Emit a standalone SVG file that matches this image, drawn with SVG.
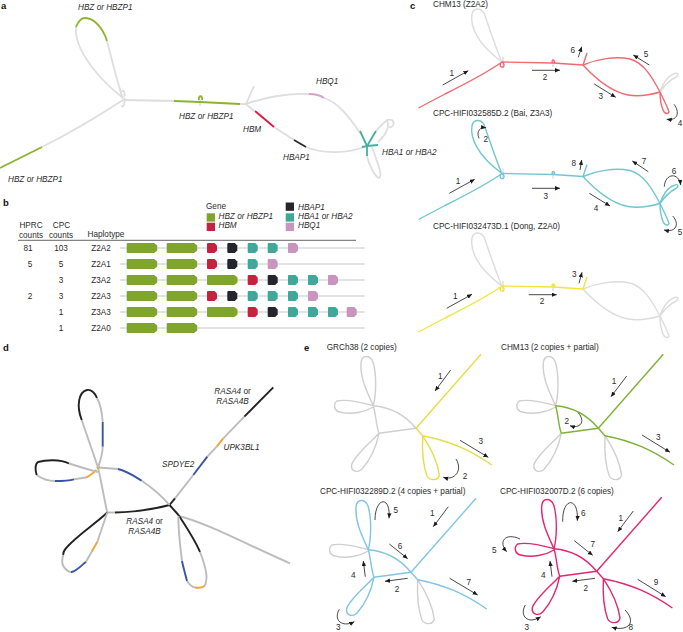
<svg xmlns="http://www.w3.org/2000/svg" xmlns:xlink="http://www.w3.org/1999/xlink" width="683" height="632" viewBox="0 0 683 632">
<style>
text{font-family:"Liberation Sans",Arial,sans-serif;font-size:8.2px;fill:#2a2a2a}
.i{font-style:italic}
.m{text-anchor:middle}
.p{font-weight:bold;font-size:9.5px;fill:#111}
.s{fill:none;stroke-linecap:butt;stroke-linejoin:round;stroke-width:1.4}
.a{fill:none;stroke-width:1.8;stroke-linecap:butt}
.d{fill:none;stroke-width:1.9}
.dg{stroke:#bcbcbc}.dk{stroke:#222}.db{stroke:#3a52a8}.do{stroke:#f0a52e}
.ar{fill:none;stroke:#1a1a1a;stroke-width:.8;marker-end:url(#ah)}
.hl{stroke:#c8c8c8;stroke-width:1.2}
.sal{stroke:#f06a70}.cy{stroke:#72c6d2}.ye{stroke:#f5e33a}.gy{stroke:#dcdcdc}
.ey{stroke:#e6dd45}.eg{stroke:#7db234}.eb{stroke:#80c4e6}.em{stroke:#e2266f}.eh{stroke:#cfcfcf}
.gr{fill:#7fa52c}.rd{fill:#c6223f}.bk{fill:#25262c}.te{fill:#40a898}.pk{fill:#c995bf}
</style>
<defs>
<marker id="ah" markerUnits="userSpaceOnUse" markerWidth="6" markerHeight="5" refX="5" refY="2.2" orient="auto"><path d="M0 0L5 2.2L0 4.4z" fill="#1a1a1a"/></marker>
<path id="big" d="M1 -5H27.5L30.5 -2.5V2.5L27.5 5H1Q0 5 0 4V-4Q0 -5 1 -5z"/>
<path id="sm" d="M1 -5H7.5L10 -2.5V2.5L7.5 5H1Q0 5 0 4V-4Q0 -5 1 -5z"/>
<path id="c-tail" d="M418.5 108L445 94C465 84 485 74 502 62C499 64 500 68 503 67C505 66 504 63 502 62"/>
<path id="c-top" d="M501.7 61.7C496 48 489 27 484 13C481 8 474 7 472 14C470 26 477 44 501.7 61.7"/>
<path id="c-mid" d="M502 62L553 63L583 65M552.500 63C551 59 555 59 554.500 63"/>
<path id="c-spike" d="M583 65L587 53"/>
<path id="c-up" d="M583 65C597 59 615 56 630 59C644 63 652 77 660 92"/>
<path id="c-low" d="M583 65C595 78 612 92 628 95C640 97 650 95 660 92"/>
<path id="c-right" d="M660 92C664 86 670 80 676 77C680 74 677 72 674 74C668 75 662 85 660 92"/>
<path id="c-bot" d="M660 92C665 102 668 108 669 112C668 115 664 113 663 110C661 105 660 98 660 92"/>
<path id="e-line" d="M481 354.300L416 428.300"/>
<path id="e-ab" d="M416 428.300L422.700 435.700"/>
<path id="e-right" d="M422.700 435.700C450 441 470 450 491.700 465"/>
<path id="e-bloop" d="M422.700 435.700C432 450 438 465 439.300 475C438 481 430 481 427 476C423 465 422 450 422.700 435.700"/>
<path id="e-ac" d="M416 428.300L379 433.300"/>
<path id="e-cd" d="M379 433.300C376 425 376 415 373.300 405.700"/>
<path id="e-da" d="M373.300 405.700C390 407 405 415 416 428.300"/>
<path id="e-top" d="M373.300 405.700C376 395 377 375 373 362C370 355 362 354 361 363C360 378 367 392 373.300 405.700"/>
<path id="e-left" d="M373.300 405.700C360 402 345 399 337 401C333 404 334 411 340 412C352 415 365 412 373.300 407"/>
<path id="e-cloop" d="M379 433.300C368 445 355 455 351.500 465C351 472 358 473 362 469C370 460 376 448 379 433.300"/>
</defs>
<text class="p" x="1" y="9">a</text><text class="p" x="3" y="206">b</text><text class="p" x="410" y="9">c</text><text class="p" x="3" y="351">d</text><text class="p" x="304" y="351">e</text>

<g id="graph-a">
<g class="a" stroke="#dedede" fill="none">
<path d="M42 147C70 133 100 115 123 100"/>
<path d="M123 99C118 85 112 60 107 41M76 27C74 40 85 68 123 98"/>
<path d="M123 100L174 101M200 100V106M240 104H246L254 86M246 104C265 97 290 93 309 94M324 98C338 102 350 118 360 133M246 104L254 111M274 127L294 140M306 147C320 153 345 155 367 146"/>
<path d="M121 92C125 88 125 95 124 97M125 98C125 104 122 110 122 105"/>
<path d="M376 131C382 125 386 118 392 120C396 124 392 128 389 127M387 119C391 130 382 138 378 142M367 156C369 165 375 177 379 178C383 176 378 164 372 147"/>
</g>
<g class="a">
<path stroke="#8ab42c" d="M0 168L42 147M76 27C78 22 81 18 85 18C94 18 103 28 107 41M174 101L200 102L240 104M199 100C198 95 203 95 202 100"/>
<path stroke="#e5173f" d="M255 111L274 127"/>
<path stroke="#2c2c30" d="M294 140L306 147"/>
<path stroke="#d7a0c8" d="M309 94C315 94 320 95 324 98"/>
<path stroke="#40b09f" d="M360 131L367 146L376 131M367 146L378 145M362 147L367 146L367 156"/>
</g>
</g>
<g id="labels-a">
<text class="i" x="78" y="10">HBZ or HBZP1</text><text class="i" x="316" y="84">HBQ1</text><text class="i" x="179" y="119">HBZ or HBZP1</text><text class="i" x="243" y="132">HBM</text><text class="i" x="283" y="160">HBAP1</text><text class="i" x="382" y="155">HBA1 or HBA2</text><text class="i" x="8" y="182">HBZ or HBZP1</text>
</g>

<g id="table-b">
<text x="206" y="209">Gene</text>
<rect class="gr" x="206.700" y="213.300" width="8.300" height="8.300"/><text class="i" x="218.500" y="219">HBZ or HBZP1</text>
<rect class="rd" x="206.700" y="222.700" width="8.300" height="8.300"/><text class="i" x="218.500" y="228.300">HBM</text>
<rect class="bk" x="285.700" y="202.500" width="8.300" height="8.300"/><text class="i" x="298" y="209.700">HBAP1</text>
<rect class="te" x="285.700" y="213.300" width="8.300" height="8.300"/><text class="i" x="298" y="219">HBA1 or HBA2</text>
<rect class="pk" x="285.700" y="222.700" width="8.300" height="8.300"/><text class="i" x="298" y="228.300">HBQ1</text>
<text class="m" x="31" y="227.500">HPRC</text><text class="m" x="31" y="238">counts</text>
<text class="m" x="61.500" y="227.500">CPC</text><text class="m" x="61" y="238">counts</text>
<text x="87.500" y="237">Haplotype</text>
<line x1="18" y1="240.300" x2="356" y2="240.300" stroke="#222" stroke-width=".7"/>
<g id="row-Z2A2" transform="translate(0,248)"><line class="hl" x1="120" x2="364.500"/><text class="m" x="28" y="3">81</text><text class="m" x="61" y="3">103</text><text class="m" x="101" y="3">Z2A2</text>
<use href="#big" class="gr" x="126.700"/><use href="#big" class="gr" x="166.700"/><use href="#sm" class="rd" x="207"/><use href="#sm" class="bk" x="227.300"/><use href="#sm" class="te" x="247.700"/><use href="#sm" class="te" x="267.700"/><use href="#sm" class="pk" x="288"/></g>
<g id="row-Z2A1" transform="translate(0,264)"><line class="hl" x1="120" x2="364.500"/><text class="m" x="30" y="3">5</text><text class="m" x="61" y="3">5</text><text class="m" x="101" y="3">Z2A1</text>
<use href="#big" class="gr" x="126.700"/><use href="#big" class="gr" x="166.700"/><use href="#sm" class="rd" x="207"/><use href="#sm" class="bk" x="227.300"/><use href="#sm" class="te" x="247.700"/><use href="#sm" class="pk" x="267.700"/></g>
<g id="row-Z3A2" transform="translate(0,280)"><line class="hl" x1="120" x2="364.500"/><text class="m" x="61" y="3">3</text><text class="m" x="101" y="3">Z3A2</text>
<use href="#big" class="gr" x="126.700"/><use href="#big" class="gr" x="166.700"/><use href="#big" class="gr" x="207"/><use href="#sm" class="rd" x="247.700"/><use href="#sm" class="bk" x="267.700"/><use href="#sm" class="te" x="288"/><use href="#sm" class="te" x="308"/><use href="#sm" class="pk" x="328"/></g>
<g id="row-Z2A3" transform="translate(0,296)"><line class="hl" x1="120" x2="364.500"/><text class="m" x="30" y="3">2</text><text class="m" x="61" y="3">3</text><text class="m" x="101" y="3">Z2A3</text>
<use href="#big" class="gr" x="126.700"/><use href="#big" class="gr" x="166.700"/><use href="#sm" class="rd" x="207"/><use href="#sm" class="bk" x="227.300"/><use href="#sm" class="te" x="247.700"/><use href="#sm" class="te" x="267.700"/><use href="#sm" class="te" x="288"/><use href="#sm" class="pk" x="308"/></g>
<g id="row-Z3A3" transform="translate(0,312)"><line class="hl" x1="120" x2="364.500"/><text class="m" x="61" y="3">1</text><text class="m" x="101" y="3">Z3A3</text>
<use href="#big" class="gr" x="126.700"/><use href="#big" class="gr" x="166.700"/><use href="#big" class="gr" x="207"/><use href="#sm" class="rd" x="247.700"/><use href="#sm" class="bk" x="267.700"/><use href="#sm" class="te" x="288"/><use href="#sm" class="te" x="308"/><use href="#sm" class="te" x="328"/><use href="#sm" class="pk" x="346.700"/></g>
<g id="row-Z2A0" transform="translate(0,328)"><line class="hl" x1="120" x2="364.500"/><text class="m" x="61" y="3">1</text><text class="m" x="101" y="3">Z2A0</text>
<use href="#big" class="gr" x="126.700"/><use href="#big" class="gr" x="166.700"/></g>
</g>

<g id="graph-c-chm13" class="s">
<use href="#c-top" class="gy"/><use href="#c-right" class="gy"/><path class="gy" d="M503 57V68M553 60V67"/>
<use href="#c-tail" class="sal"/><use href="#c-mid" class="sal"/><use href="#c-spike" class="sal"/><use href="#c-up" class="sal"/><use href="#c-low" class="sal"/><use href="#c-bot" class="sal"/>
<text x="433" y="7">CHM13 (Z2A2)</text>
</g>
<g id="graph-c-bai" class="s" transform="translate(0,111.500)">
<path class="gy" d="M503 57V68M553 60V67"/>
<use href="#c-tail" class="cy"/><use href="#c-top" class="cy"/><use href="#c-mid" class="cy"/><use href="#c-spike" class="cy"/><use href="#c-up" class="cy"/><use href="#c-low" class="cy"/><use href="#c-right" class="cy"/><use href="#c-bot" class="cy"/>
</g>
<text x="433" y="116">CPC-HIFI032585D.2 (Bai, Z3A3)</text>
<g id="graph-c-dong" class="s" transform="translate(0,224)">
<use href="#c-top" class="gy"/><use href="#c-up" class="gy"/><use href="#c-low" class="gy"/><use href="#c-right" class="gy"/><use href="#c-bot" class="gy"/><path class="gy" d="M503 57V68M553 60V67"/>
<use href="#c-tail" class="ye"/><use href="#c-mid" class="ye"/><use href="#c-spike" class="ye"/>
</g>
<text x="433" y="229">CPC-HIFI032473D.1 (Dong, Z2A0)</text>

<g id="graph-d">
<path class="d dk" d="M273.300 387.300L244.300 416.700"/><path class="d dg" d="M244.300 416.700L223.300 438.300"/><path class="d do" d="M223.300 438.300L216.700 446.700"/><path class="d dg" d="M216.700 446.700L207.300 456.700"/><path class="d db" d="M207.300 456.700L193.300 475"/><path class="d dg" d="M193.300 475L175 498.300"/><path class="d dk" d="M175 498.300L169.500 505"/>
<path class="d dk" d="M169.500 505L178.500 515"/>
<path class="d dg" d="M178.500 516C205 522 250 546 290 563.300"/>
<path class="d dk" d="M178.500 515C185 525 195 540 200 552"/>
<path class="d dg" d="M200 552C205 565 208 575 206 581"/>
<path class="d do" d="M204.500 586C202 588 198 588 195 587.500"/>
<path class="d dg" d="M206 581C206 584 205 585 204.500 586M195 587.500C192 587 189 584 187 581"/>
<path class="d db" d="M187 581C185 573 183 566 182 561"/>
<path class="d dg" d="M182 561C180 545 178 530 178.500 516"/>
<path class="d dk" d="M169.500 505C155 509 135 512 115 512.500"/><path class="d dg" d="M115 512.500L107.300 512.500"/>
<path class="d dg" d="M107.300 512.500C104 498 101 480 98 467.500"/>
<path class="d dg" d="M98 467.500L118 469"/><path class="d db" d="M118 469C127 471 134 476 141.700 480.700"/><path class="d dg" d="M141.700 480.700C151 487 162 496 169.500 505"/>
<path class="d do" d="M97 467C98 469 99 468 99 466M96.500 470C93 473 90 476 86 477.500"/>
<path class="d dg" d="M86 477.500L74 479.300"/><path class="d db" d="M74 479.300C68 481 60 481 55 481"/>
<path class="d dg" d="M55 481C48 481 42 479 36.700 475"/>
<path class="d dk" d="M36.700 475C35 470 35 464 38 462C45 460 60 459 69 463.500"/>
<path class="d dg" d="M69 463.500C80 467 90 470 98 472"/>
<path class="d dg" d="M98 467.500L81.700 420"/>
<path class="d dk" d="M81.700 420C76 405 79 392 87 390C91 389 95 393 97 398"/>
<path class="d dg" d="M97 398C101 405 102 412 102.700 422"/>
<path class="d db" d="M102.700 422V446.700"/>
<path class="d dg" d="M102.700 446.700C102.500 455 100 462 98 467.500"/>
<path class="d dk" d="M107.300 512.500C95 524 78 535 68 546C63 551 63 553 63.300 555"/>
<path class="d dg" d="M63.300 555C60 565 65 570 71 572.300"/>
<path class="d db" d="M71 572.300C77 571 82 565 86 561.700"/>
<path class="d dg" d="M86 561.700L91.700 551.700"/>
<path class="d do" d="M91.700 551.700L97.300 541.700"/>
<path class="d dg" d="M97.300 541.700L107.300 512.500"/>
</g>
<g id="labels-d">
<text class="i m" x="232.500" y="394">RASA4 <tspan font-style="normal">or</tspan></text><text class="i m" x="232.500" y="404">RASA4B</text>
<text class="i" x="162" y="467">SPDYE2</text><text class="i" x="223.500" y="450">UPK3BL1</text>
<text class="i m" x="144.500" y="523.500">RASA4 <tspan font-style="normal">or</tspan></text><text class="i m" x="144.500" y="533.500">RASA4B</text>
</g>

<g id="graph-e-grch38" class="s">
<use href="#e-top" class="eh"/><use href="#e-left" class="eh"/><use href="#e-cloop" class="eh"/><use href="#e-ac" class="eh"/><use href="#e-cd" class="eh"/><use href="#e-da" class="eh"/>
<use href="#e-line" class="ey"/><use href="#e-ab" class="ey"/><use href="#e-right" class="ey"/><use href="#e-bloop" class="ey"/>
</g>
<text x="326.700" y="350">GRCh38 (2 copies)</text>
<g id="graph-e-chm13" class="s" transform="translate(182.300,0)">
<use href="#e-top" class="eh"/><use href="#e-left" class="eh"/><use href="#e-cloop" class="eh"/><use href="#e-bloop" class="eh"/>
<use href="#e-line" class="eg"/><use href="#e-ab" class="eg"/><use href="#e-right" class="eg"/><use href="#e-ac" class="eg"/><use href="#e-cd" class="eg"/><use href="#e-da" class="eg"/>
</g>
<text x="501" y="350">CHM13 (2 copies + partial)</text>
<g id="graph-e-289" class="s" transform="translate(-5,144)">
<use href="#e-left" class="eh"/><use href="#e-bloop" class="eh"/>
<use href="#e-line" class="eb"/><use href="#e-ab" class="eb"/><use href="#e-right" class="eb"/><use href="#e-ac" class="eb"/><use href="#e-cd" class="eb"/><use href="#e-da" class="eb"/><use href="#e-top" class="eb"/><use href="#e-cloop" class="eb"/>
</g>
<text x="320" y="493.500">CPC-HIFI032289D.2 (4 copies + partial)</text>
<g id="graph-e-007" class="s" transform="translate(180.700,143)">
<use href="#e-line" class="em"/><use href="#e-ab" class="em"/><use href="#e-right" class="em"/><use href="#e-ac" class="em"/><use href="#e-cd" class="em"/><use href="#e-da" class="em"/><use href="#e-top" class="em"/><use href="#e-left" class="em"/><use href="#e-cloop" class="em"/><use href="#e-bloop" class="em"/>
</g>
<text x="500" y="493.500">CPC-HIFI032007D.2 (6 copies)</text>

<g id="connectors">
<path class="ar" d="M442.700 85L468.300 70.700"/><path class="ar" d="M532 70.300H560"/><path class="ar" d="M594.300 84L615.700 97.300"/><path class="ar" d="M674 104.300C680 112 678 121 666.700 119.300"/><path class="ar" d="M649.300 65L633.300 55"/><path class="ar" d="M578.300 57.300L581.700 46.700"/>
<path class="ar" d="M479 138.300C476 131 480 127 486 127.700"/><path class="ar" d="M580 170L581.700 160"/><path class="ar" d="M648.300 171.700L632.300 161"/><path class="ar" d="M664.300 186.700C665 173 679 172 680.700 185"/><path class="ar" d="M672.700 216C680 224 676 233 664 230"/><path class="ar" d="M449.300 193.300L474.700 179.300"/><path class="ar" d="M532 188.300H560"/><path class="ar" d="M589.300 193.300L610 206"/>
<path class="ar" d="M446.700 308.300L472 294.300"/><path class="ar" d="M528.700 294.700H556.700"/><path class="ar" d="M579 283.300L582 272.300"/>
<path class="ar" d="M450.700 370L435 391"/><path class="ar" d="M460 440.300L488.300 457.300"/><path class="ar" d="M456 459C463 470 455 481 443.300 477.300"/>
<path class="ar" d="M626.700 376L611 396.700"/><path class="ar" d="M642 435L670 452.300"/><path class="ar" d="M578.300 412.700C586 422 580 429 570 425.700"/>
<path class="ar" d="M375 520C375 497 391 495 389 518.300"/><path class="ar" d="M448.300 506.700L433.300 526.700"/><path class="ar" d="M389.300 544L407.700 558.700"/><path class="ar" d="M449.700 578.300L477.700 595"/><path class="ar" d="M365.300 576.700L363.300 561"/><path class="ar" d="M407.700 578.300L385 581.300"/><path class="ar" d="M339.300 609.300C333 620 342 628 354.300 621.700"/>
<path class="ar" d="M562.700 521.700C562 497 579 496 577.300 520.700"/><path class="ar" d="M633.300 511L617.700 531.700"/><path class="ar" d="M574.300 540.700L592.700 555.300"/><path class="ar" d="M637.700 579.300L665.700 596.700"/><path class="ar" d="M520 539C505 532 498 542 506.700 551.700"/><path class="ar" d="M552 576.700L550 561"/><path class="ar" d="M595 578.300L572.300 581.300"/><path class="ar" d="M525.300 605C519 616 528 625 540.700 616.700"/><path class="ar" d="M625 610C636 621 630 632 611.700 627.300"/>
</g>
<g id="arrow-labels">
<text class="m" x="451.700" y="76">1</text><text class="m" x="545" y="80">2</text><text class="m" x="600.700" y="99">3</text><text class="m" x="680" y="126">4</text><text class="m" x="646" y="57">5</text><text class="m" x="572.700" y="53">6</text>
<text class="m" x="485.700" y="142">2</text><text class="m" x="573.700" y="165.500">8</text><text class="m" x="644" y="164">7</text><text class="m" x="674" y="173.500">6</text><text class="m" x="680" y="234.500">5</text><text class="m" x="458" y="183.500">1</text><text class="m" x="545.700" y="198.500">3</text><text class="m" x="596" y="210.500">4</text>
<text class="m" x="455.300" y="299">1</text><text class="m" x="542" y="303.500">2</text><text class="m" x="574.300" y="277">3</text>
<text class="m" x="440.300" y="378.500">1</text><text class="m" x="480.700" y="444">3</text><text class="m" x="465" y="479">2</text>
<text class="m" x="614" y="384">1</text><text class="m" x="658.300" y="439.500">3</text><text class="m" x="566.700" y="423.500">2</text>
<text class="m" x="395.700" y="513">5</text><text class="m" x="432.300" y="516">1</text><text class="m" x="400" y="549">6</text><text class="m" x="468.700" y="584.500">7</text><text class="m" x="353.300" y="577.500">4</text><text class="m" x="397" y="591.500">2</text><text class="m" x="338.300" y="630">3</text>
<text class="m" x="583.300" y="515.500">6</text><text class="m" x="620.700" y="521">1</text><text class="m" x="592.700" y="547">7</text><text class="m" x="656" y="585">9</text><text class="m" x="494.300" y="553">5</text><text class="m" x="543.300" y="577.500">4</text><text class="m" x="585.700" y="591">2</text><text class="m" x="526.700" y="630">3</text><text class="m" x="630.700" y="630">8</text>
</g>
</svg>
